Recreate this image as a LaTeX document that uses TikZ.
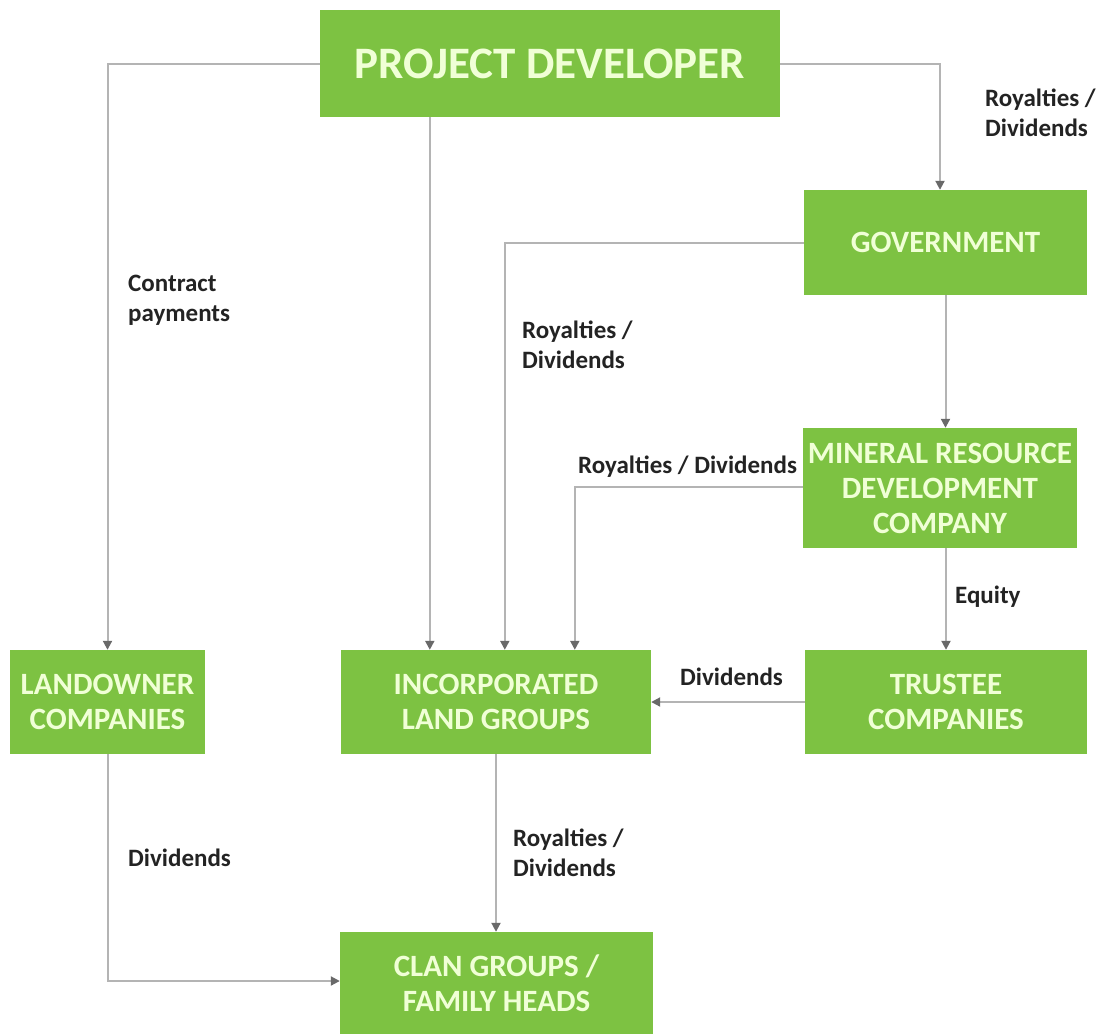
\documentclass[tikz,border=0pt]{standalone}
\usepackage{fontspec}
\setmainfont{Carlito}
\usetikzlibrary{arrows.meta}
\definecolor{boxgreen}{RGB}{125,194,66}
\definecolor{boxtext}{RGB}{240,255,214}
\definecolor{linegray}{RGB}{180,180,180}
\definecolor{tipgray}{RGB}{105,105,105}
\definecolor{labeltext}{RGB}{35,35,35}
\tikzset{
  box/.style={fill=boxgreen, draw=none, text=boxtext, font=\bfseries\fontsize{31}{35}\selectfont, align=center, inner sep=0pt},
  conn/.style={draw=linegray, line width=2pt, -{Triangle[width=9pt,length=9pt,fill=tipgray,color=tipgray]}},
  lbl/.style={text=labeltext, font=\bfseries\fontsize{25}{30}\selectfont, align=left, inner sep=0pt, anchor=west}
}
\begin{document}
\begin{tikzpicture}[x=1pt,y=-1pt]
\useasboundingbox (0,0) rectangle (1112,1034);
\node[box, minimum width=460pt, minimum height=107pt, font=\bfseries\fontsize{45}{50}\selectfont] (pd) at (550,63.5) {PROJECT DEVELOPER};
\node[box, minimum width=283pt, minimum height=105pt] (gov) at (945.5,242.5) {GOVERNMENT};
\node[box, minimum width=274pt, minimum height=120pt] (mrdc) at (940,488) {MINERAL RESOURCE\\DEVELOPMENT\\COMPANY};
\node[box, minimum width=282pt, minimum height=104pt] (tc) at (946,702) {TRUSTEE\\COMPANIES};
\node[box, minimum width=310pt, minimum height=104pt] (ilg) at (496,702) {INCORPORATED\\LAND GROUPS};
\node[box, minimum width=195pt, minimum height=104pt] (lo) at (107.5,702) {LANDOWNER\\COMPANIES};
\node[box, minimum width=313pt, minimum height=102pt] (clan) at (496.5,983) {CLAN GROUPS /\\FAMILY HEADS};

\draw[conn] (pd.west) -| (lo.north);
\draw[conn] ([xshift=89pt]ilg.north west |- pd.south) -- ([xshift=89pt]ilg.north west);
\draw[conn] (pd.east) -| ([xshift=-5.5pt]gov.north);
\draw[conn] (gov.west) -| ([xshift=164pt]ilg.north west);
\draw[conn] (gov.south) -- (gov.south |- mrdc.north);
\draw[conn] ([yshift=1pt]mrdc.west) -| ([xshift=234pt]ilg.north west);
\draw[conn] (tc.north |- mrdc.south) -- (tc.north);
\draw[conn] (tc.west) -- (ilg.east);
\draw[conn] (ilg.south) -- (ilg.south |- clan.north);
\draw[conn] (lo.south) |- ([yshift=2pt]clan.west);

\node[lbl] (l1) at (128,300) {Contract\\payments};
\node[lbl] (l2) at (985,113) {Royalties /\\Dividends};
\node[lbl] (l3) at (522,345) {Royalties /\\Dividends};
\node[lbl] (l4) at (578,467) {Royalties / Dividends};
\node[lbl] (l5) at (955,597) {Equity};
\node[lbl] (l6) at (680,677) {Dividends};
\node[lbl] (l7) at (513,853) {Royalties /\\Dividends};
\node[lbl] (l8) at (128,858) {Dividends};
\end{tikzpicture}
\end{document}
